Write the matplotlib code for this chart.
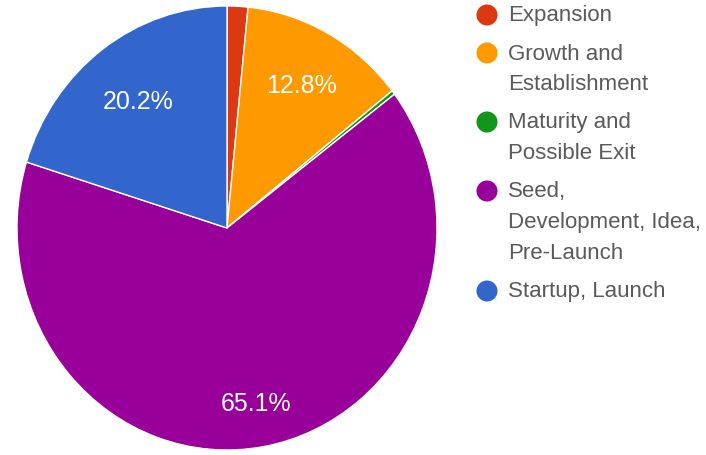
import numpy as np
import matplotlib.pyplot as plt

# --- DATA ---
stages = ["Expansion", "Growth and\nEstablishment", "Maturity and\nPossible Exit",
          "Seed,\nDevelopment, Idea,\nPre-Launch", "Startup, Launch"]
shares = [1.6, 12.8, 0.3, 65.1, 20.2]
colors = ["#dc3912", "#ff9900", "#109618", "#990099", "#3366cc"]

# label radius (fraction of pie radius), only slices >= 5% get a label
label_r = [0.0, 0.733, 0.0, 0.80, 0.711]

plt.rcParams['font.family'] = ['Liberation Sans', 'DejaVu Sans']

W, H = 706, 456
fig = plt.figure(figsize=(W/100, H/100), dpi=100)

# pie axes: centre (227, 229) px from top-left; the source image is a bit
# stretched vertically, so the pie is an ellipse (rx 210, ry 222)
cx, cy, rx, ry = 227, 229, 210, 222
ax = fig.add_axes([(cx - rx)/W, (H - cy - ry)/H, 2*rx/W, 2*ry/H])
wedges, _ = ax.pie(shares, colors=colors, startangle=90, counterclock=False,
                   radius=1.0, wedgeprops=dict(edgecolor='white', linewidth=1))
ax.set_xlim(-1, 1)
ax.set_ylim(-1, 1)
ax.set_aspect('auto')
ax.axis('off')

for w, v, d in zip(wedges, shares, label_r):
    if v < 5:
        continue
    mid = np.deg2rad((w.theta1 + w.theta2) / 2)
    ax.text(d*np.cos(mid), d*np.sin(mid), f"{v:.1f}%", color='white',
            fontsize=18, ha='center', va='center')

# legend, drawn by hand in pixel coordinates
lax = fig.add_axes([0, 0, 1, 1])
lax.set_xlim(0, W)
lax.set_ylim(H, 0)
lax.axis('off')

line_h = 31
gap = 38
y = 16
for name, col in zip(stages, colors):
    lax.scatter([487], [y], s=230, color=col, edgecolor='none')
    lines = name.split("\n")
    for i, ln in enumerate(lines):
        lax.text(508, y + i*line_h, ln, fontsize=16, color='#5a5a5a',
                 ha='left', va='center')
    y += (len(lines) - 1)*line_h + gap

fig.savefig("out.png", dpi=100)
